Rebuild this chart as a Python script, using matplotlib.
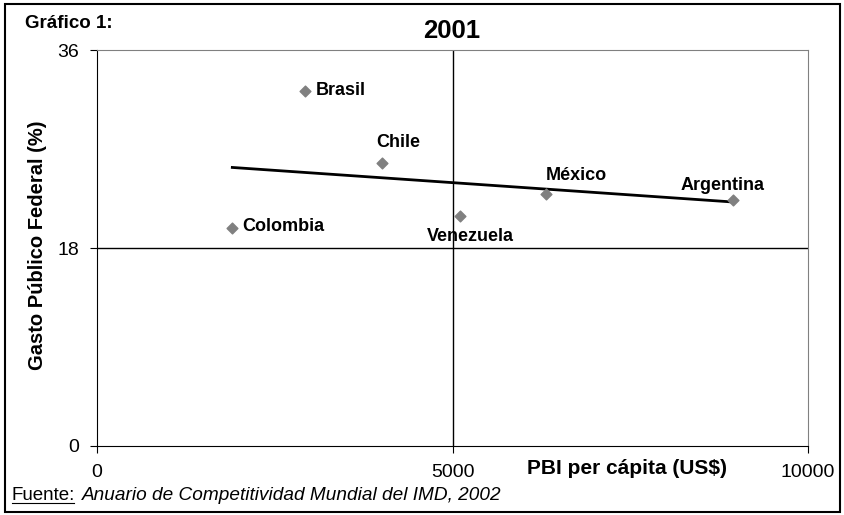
import numpy as np
import matplotlib
matplotlib.use("Agg")
import matplotlib.pyplot as plt
from matplotlib.patches import Rectangle

plt.rcParams['font.family'] = ['Liberation Sans', 'DejaVu Sans']

# Datos (PBI per capita US$, gasto publico federal %)
paises = ['Brasil', 'Chile', 'Colombia', 'Venezuela', 'México', 'Argentina']
pbi = [2925, 4003, 1903, 5105, 6315, 8940]
gasto = [32.3, 25.7, 19.85, 20.9, 22.9, 22.36]
xticks = [0, 5000, 10000]
yticks = [0, 18, 36]

# desplazamiento de las etiquetas (pixeles) y alineacion
offsets = {
    'Brasil': (11, 0, 'left', 'center'),
    'Chile': (-5, 21, 'left', 'center'),
    'Colombia': (10, 1, 'left', 'center'),
    'Venezuela': (10, -20, 'center', 'center'),
    'México': (0, 19, 'left', 'center'),
    'Argentina': (-10, 15, 'center', 'center'),
}

W, H = 845, 515
fig = plt.figure(figsize=(W / 100, H / 100), dpi=100)
ax = fig.add_axes([97 / W, 1 - 446 / H, (808 - 97) / W, (446 - 50) / H])

ax.set_xlim(0, 10000)
ax.set_ylim(0, 36)

# lineas de referencia
ax.axvline(5000, color='black', lw=1, zorder=1)
ax.axhline(18, color='black', lw=1, zorder=1)

# linea de tendencia
m, b = np.polyfit(pbi, gasto, 1)
xs = np.array([min(pbi), max(pbi)])
ax.plot(xs, m * xs + b, color='black', lw=2, zorder=2)

ax.scatter(pbi, gasto, marker='D', s=30, color='#808080', zorder=3)

for p, x, y in zip(paises, pbi, gasto):
    dx, dy, ha, va = offsets[p]
    ax.annotate(p, (x, y), xytext=(dx, dy), textcoords='offset pixels',
                ha=ha, va=va, fontsize=13, fontweight='bold')

ax.set_xticks(xticks)
ax.set_yticks(yticks)
ax.tick_params(direction='out', length=5, labelsize=14, pad=8)
for s in ['top', 'right']:
    ax.spines[s].set_color('#808080')
for s in ['left', 'bottom']:
    ax.spines[s].set_color('black')

fig.text(452 / W, 1 - 31 / H, '2001', fontsize=18.5, fontweight='bold',
         ha='center', va='center')
fig.text(38 / W, 1 - 245 / H, 'Gasto Público Federal (%)', fontsize=14.5,
         fontweight='bold', rotation=90, ha='center', va='center')
fig.text(627 / W, 1 - 469 / H, 'PBI per cápita (US$)', fontsize=15,
         fontweight='bold', va='center', ha='center')

fig.text(25 / W, 1 - 24 / H, 'Gráfico 1:', fontsize=13.5, fontweight='bold',
         va='center', ha='left')

# fuente
fig.text(12 / W, 1 - 496 / H, 'Fuente:', fontsize=13.5, va='center', ha='left')
fig.text(82 / W, 1 - 496 / H, 'Anuario de Competitividad Mundial del IMD, 2002',
         fontsize=13.7, style='italic', va='center', ha='left')
fig.lines.append(plt.Line2D([12 / W, 74 / W], [1 - 503 / H, 1 - 503 / H],
                            transform=fig.transFigure, color='black', lw=0.8))

fig.patches.append(Rectangle((5 / W, 3 / H), 835 / W, 508 / H,
                             transform=fig.transFigure, fill=False,
                             edgecolor='black', lw=1.5))

fig.savefig('out.png', dpi=100)
